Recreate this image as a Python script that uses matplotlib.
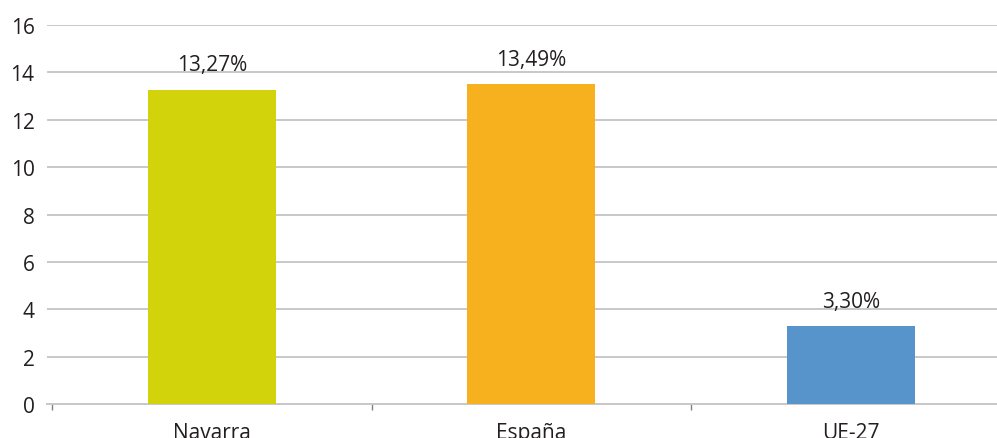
import matplotlib
matplotlib.use("Agg")
import matplotlib.pyplot as plt
from matplotlib.ticker import FixedLocator

plt.rcParams['font.family'] = ['Open Sans', 'DejaVu Sans']

categories = ['Navarra', 'España', 'UE-27']
values = [13.27, 13.49, 3.30]
value_labels = ['13,27%', '13,49%', '3,30%']
colors = ['#d2d30b', '#f7b11e', '#5694cb']
yticks = [0, 2, 4, 6, 8, 10, 12, 14, 16]

fig = plt.figure(figsize=(9.97, 4.39), dpi=100)
ax = fig.add_axes([0.0471, 0.0774, 0.9529, 0.8634])

idx = list(range(len(categories)))
ax.bar(idx, values, width=0.4, color=colors, zorder=3)

for i, v in enumerate(values):
    ax.text(i, v + 0.6, value_labels[i], ha='center', va='bottom',
            fontsize=15, color='#231f20')

ax.set_ylim(0, 16)
ax.set_xlim(-0.516, 2.458)
ax.set_yticks(yticks)
ax.yaxis.grid(True, color='#c8c8c8', linewidth=1.4, zorder=0)
ax.tick_params(axis='y', length=0, labelsize=15, labelcolor='#231f20', pad=9)

ax.set_xticks(idx)
ax.set_xticklabels(categories)
ax.tick_params(axis='x', which='major', length=0, labelsize=15,
               labelcolor='#231f20', pad=13)
ax.xaxis.set_minor_locator(FixedLocator([-0.5, 0.5, 1.5, 2.5]))
ax.tick_params(axis='x', which='minor', length=4, width=1, color='#808080',
               direction='out')

for s in ['top', 'right', 'left']:
    ax.spines[s].set_visible(False)
ax.spines['bottom'].set_color('#c8c8c8')
ax.spines['bottom'].set_linewidth(1.4)

fig.savefig('out.png', dpi=100)
